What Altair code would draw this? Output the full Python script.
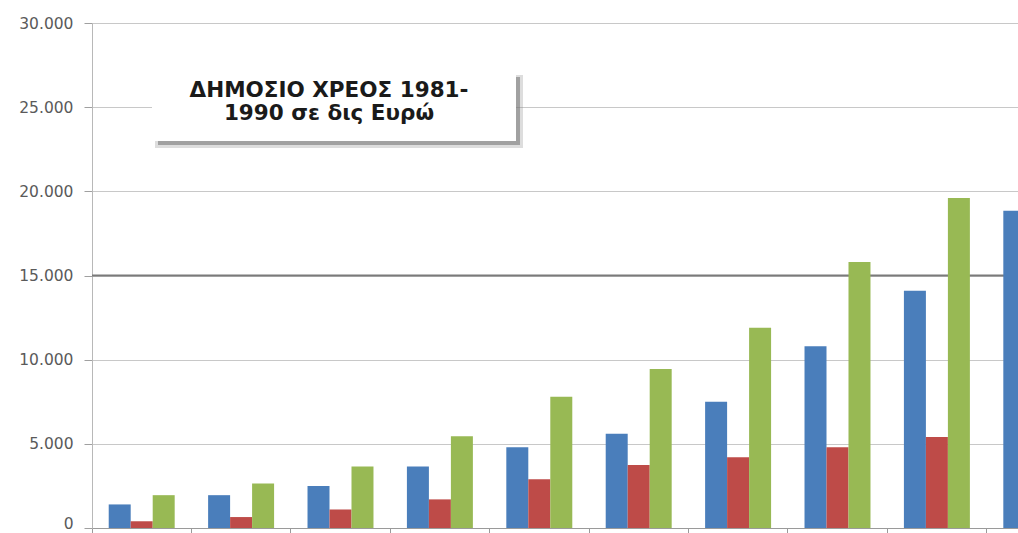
import altair as alt
import pandas as pd

years = ["1981", "1982", "1983", "1984", "1985", "1986", "1987", "1988", "1989", "1990"]
series_names = ["Σειρά 1", "Σειρά 2", "Σειρά 3"]
blue_vals = [1400, 1950, 2500, 3650, 4800, 5600, 7500, 10800, 14100, 18850]
red_vals = [400, 650, 1100, 1700, 2900, 3750, 4200, 4800, 5400, None]
green_vals = [1950, 2650, 3650, 5450, 7800, 9450, 11900, 15800, 19600, None]
colors = ["#4A7EBB", "#BE4B48", "#98B954"]
y_ticks = [0, 5000, 10000, 15000, 20000, 25000, 30000]
highlight_line = [15000]
title_lines = ["ΔΗΜΟΣΙΟ ΧΡΕΟΣ 1981-", "1990 σε δις Ευρώ"]

rows = []
for name, vals in zip(series_names, [blue_vals, red_vals, green_vals]):
    for yr, v in zip(years, vals):
        if v is not None:
            rows.append({"year": yr, "series": name, "value": v})
df = pd.DataFrame(rows)

W, H = 926, 505

x_enc = alt.X(
    "year:N",
    sort=years,
    scale=alt.Scale(domain=years, range=[0, 994], paddingInner=0, paddingOuter=0),
    axis=alt.Axis(
        labels=False, title=None, bandPosition=0, domainColor="#9a9a9a",
        tickColor="#9a9a9a", tickSize=5, grid=False,
    ),
)
y_enc = alt.Y(
    "value:Q",
    scale=alt.Scale(domain=[0, 30000], nice=False),
    axis=alt.Axis(
        values=y_ticks, title=None, grid=True, gridColor="#c8c8c8",
        domainColor="#b8b8b8", tickColor="#a0a0a0", tickSize=8,
        labelPadding=11, labelFont="DejaVu Sans", labelFontSize=15.5,
        labelColor="#5a5a5a",
        labelBaseline=alt.condition("datum.value === 0", alt.value("alphabetic"), alt.value("middle")),
        labelExpr="replace(format(datum.value, ','), ',', '.')",
    ),
)

grid_hl = alt.Chart(pd.DataFrame({"v": highlight_line})).mark_rule(
    color="#7a7a7a", strokeWidth=2
).encode(y=alt.Y("v:Q", scale=alt.Scale(domain=[0, 30000], nice=False)))

bars = alt.Chart(df).mark_bar().encode(
    x=x_enc,
    xOffset=alt.XOffset(
        "series:N", sort=series_names,
        scale=alt.Scale(domain=series_names, paddingInner=0, paddingOuter=0.76),
    ),
    y=y_enc,
    color=alt.Color("series:N", scale=alt.Scale(domain=series_names, range=colors), legend=None),
)

one = pd.DataFrame({"a": [0]})
shadow1 = alt.Chart(one).mark_rect(color="#909090", opacity=0.3).encode(
    x=alt.value(63), x2=alt.value(431), y=alt.value(52), y2=alt.value(125)
)
shadow2 = alt.Chart(one).mark_rect(color="#707070", opacity=0.55).encode(
    x=alt.value(66), x2=alt.value(428), y=alt.value(54), y2=alt.value(122)
)
box = alt.Chart(one).mark_rect(color="white").encode(
    x=alt.value(60), x2=alt.value(424), y=alt.value(49), y2=alt.value(118)
)
label = alt.Chart(one).mark_text(
    text=title_lines, font="DejaVu Sans", fontWeight="bold", fontSize=21.5,
    color="#1a1a1a", align="center", baseline="middle", lineHeight=23,
).encode(x=alt.value(237), y=alt.value(68))

chart = alt.layer(grid_hl, bars, shadow1, shadow2, box, label).properties(
    width=W, height=H,
    autosize=alt.AutoSizeParams(type="none"),
    padding={"left": 92, "top": 23, "right": 0, "bottom": 5},
).configure_view(stroke=None).configure(background="white")

chart.save("out.html", embed_options={"renderer": "svg", "actions": False})
